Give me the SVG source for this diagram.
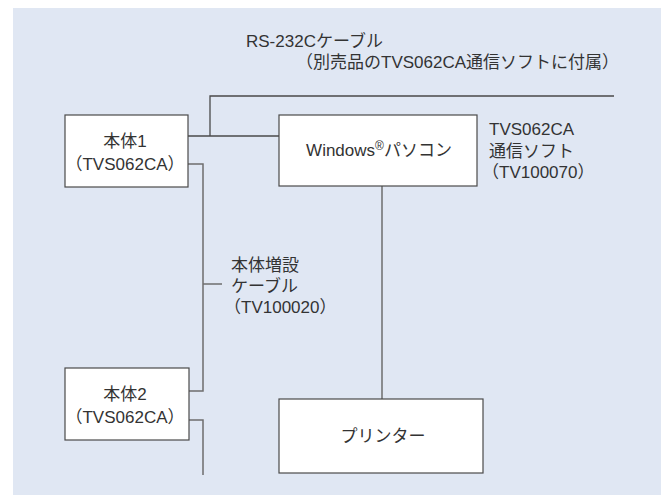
<svg xmlns="http://www.w3.org/2000/svg" width="661" height="495" viewBox="0 0 661 495">
<style>
.box{fill:#ffffff;stroke:#4a4a4a;stroke-width:1.2}
.ln{fill:none;stroke:#6e6e6e;stroke-width:1.5}
.dk{fill:none;stroke:#4a4a4a;stroke-width:1.3}
text{font-family:"Liberation Sans","Noto Sans CJK JP",sans-serif;font-size:17px;fill:#333333}
.c{text-anchor:middle}
</style>
<rect x="13" y="8" width="648" height="487" fill="#e0e7f3"/>
<g id="connectors">
<polyline class="dk" points="210,136 210,96 614,96"/>
<line class="dk" x1="188" y1="136" x2="279" y2="136"/>
<polyline class="ln" points="188,164 203,164 203,391 189,391"/>
<line class="ln" x1="203" y1="284" x2="222" y2="284"/>
<polyline class="ln" points="189,420 203,420 203,475"/>
<line class="ln" x1="382" y1="186" x2="382" y2="399"/>
</g>
<g id="label-rs232c">
<text x="246" y="47">RS-232Cケーブル</text>
<text x="296" y="68">（別売品のTVS062CA通信ソフトに付属）</text>
</g>
<g id="honntai1">
<rect class="box" x="65" y="115" width="123" height="72"/>
<text class="c" x="125" y="147">本体1</text>
<text class="c" x="125" y="170">（TVS062CA）</text>
</g>
<g id="pc">
<rect class="box" x="279" y="115" width="198" height="71"/>
<text class="c" x="379" y="156">Windows<tspan font-size="12" baseline-shift="6">®</tspan>パソコン</text>
</g>
<g id="label-soft">
<text x="489" y="135">TVS062CA</text>
<text x="489" y="157">通信ソフト</text>
<text x="482" y="178">（TV100070）</text>
</g>
<g id="label-cable">
<text x="231" y="271">本体増設</text>
<text x="231" y="292">ケーブル</text>
<text x="224" y="313">（TV100020）</text>
</g>
<g id="honntai2">
<rect class="box" x="65" y="368" width="124" height="72"/>
<text class="c" x="125" y="400">本体2</text>
<text class="c" x="125" y="423">（TVS062CA）</text>
</g>
<g id="printer">
<rect class="box" x="279" y="399" width="204" height="74"/>
<text class="c" x="383" y="442">プリンター</text>
</g>
</svg>
